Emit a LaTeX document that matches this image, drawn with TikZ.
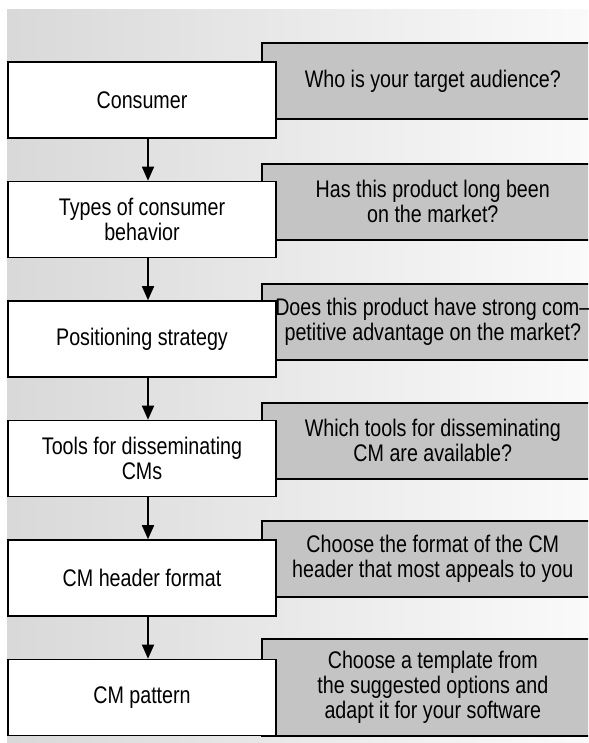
\documentclass[tikz,border=0pt]{standalone}
\usepackage{fontspec}
\setmainfont{Liberation Sans}[FakeStretch=0.82]
\usetikzlibrary{arrows.meta}

\begin{document}
\begin{tikzpicture}[x=1pt,y=-1pt,
        stepbox/.style={draw, line width=1.6pt, fill=white, minimum width=268pt, minimum height=76pt,
            inner sep=0pt, align=center, font=\fontsize{24}{25}\selectfont},
        askbox/.style={draw, line width=1.6pt, fill=black!23, minimum width=342pt, minimum height=76pt,
            inner sep=0pt, anchor=north west, align=center, font=\fontsize{24}{25}\selectfont},
        flowarrow/.style={line width=1.6pt, -{Triangle[length=14pt,width=12pt]}}]
        \newcommand{\flowboxx}{142}
        \newcommand{\askboxx}{261}
        \newcommand{\arrowshift}{6pt}
        \useasboundingbox (0,0) rectangle (588,743);
        \clip (0,0) rectangle (588,743);
        \fill[left color=black!15, right color=black!2] (7,10) rectangle (588,743);

        \node[askbox] (ask1) at (\askboxx,42) {Who is your target audience?};
        \node[askbox] (ask2) at (\askboxx,163) {Has this product long been\\on the market?};
        \node[askbox] (ask3) at (\askboxx,283) {Does this product have strong com--\\petitive advantage on the market?};
        \node[askbox] (ask4) at (\askboxx,402) {Which tools for disseminating\\CM are available?};
        \node[askbox] (ask5) at (\askboxx,520) {Choose the format of the CM\\header that most appeals to you};
        \node[askbox, minimum height=97pt] (ask6) at (\askboxx,638) {Choose a template from\\the suggested options and\\adapt it for your software};

        \node[stepbox] (consumer) at (\flowboxx,100) {Consumer};
        \node[stepbox] (types) at (\flowboxx,219.5) {Types of consumer\\behavior};
        \node[stepbox] (positioning) at (\flowboxx,339) {Positioning strategy};
        \node[stepbox] (tools) at (\flowboxx,458.5) {Tools for disseminating\\CMs};
        \node[stepbox] (header) at (\flowboxx,578) {CM header format};
        \node[stepbox] (pattern) at (\flowboxx,697.5) {CM pattern};

        \draw[flowarrow] ([xshift=\arrowshift]consumer.south) -- ([xshift=\arrowshift]types.north);
        \draw[flowarrow] ([xshift=\arrowshift]types.south) -- ([xshift=\arrowshift]positioning.north);
        \draw[flowarrow] ([xshift=\arrowshift]positioning.south) -- ([xshift=\arrowshift]tools.north);
        \draw[flowarrow] ([xshift=\arrowshift]tools.south) -- ([xshift=\arrowshift]header.north);
        \draw[flowarrow] ([xshift=\arrowshift]header.south) -- ([xshift=\arrowshift]pattern.north);
    \end{tikzpicture}
\end{document}
